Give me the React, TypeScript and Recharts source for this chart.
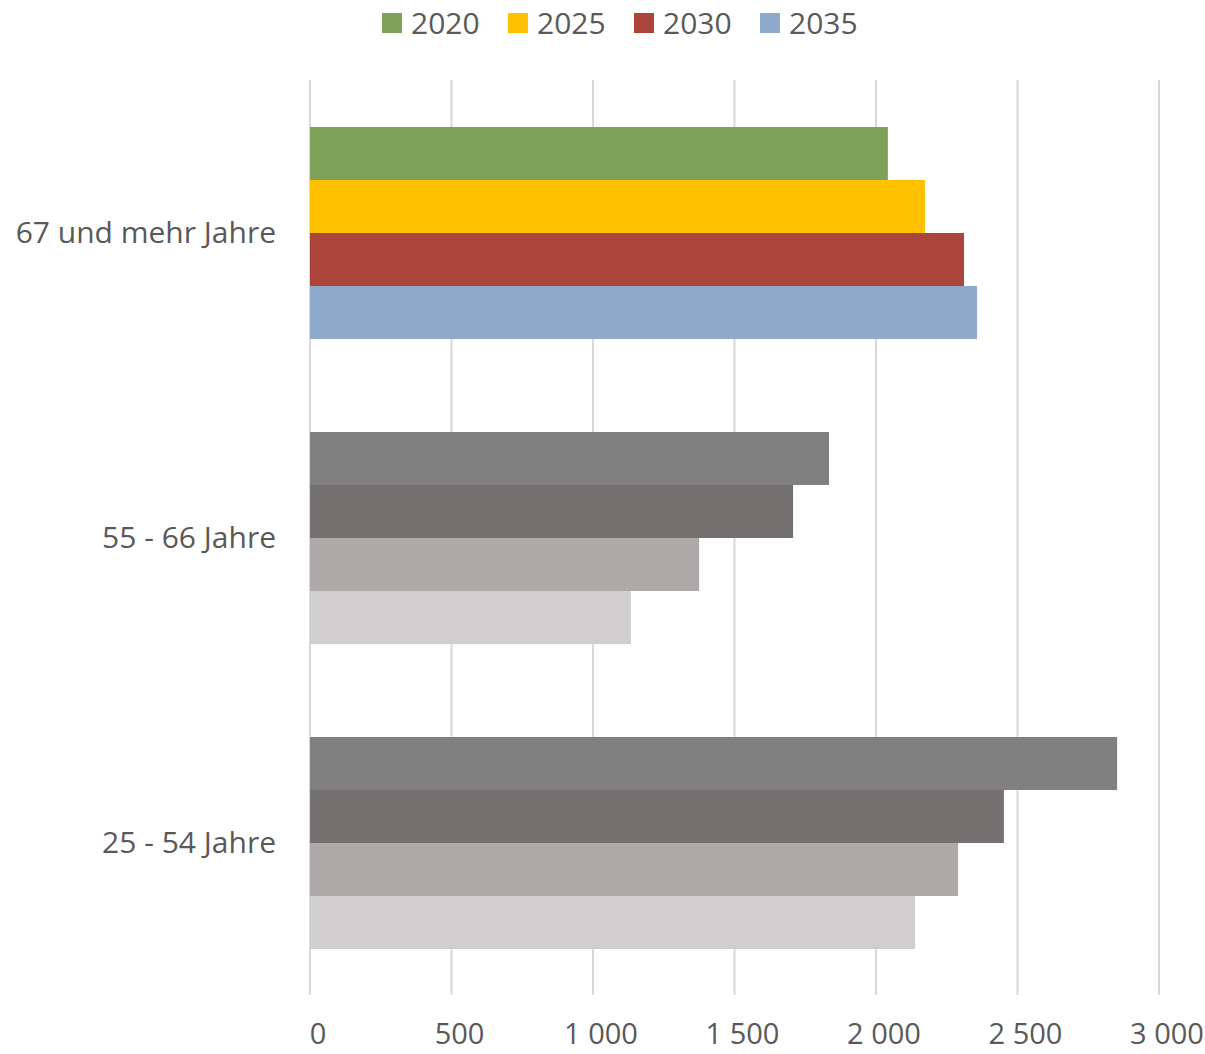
import { BarChart, Bar, XAxis, YAxis, CartesianGrid, Cell } from "recharts";

const categories = ["67 und mehr Jahre", "55 - 66 Jahre", "25 - 54 Jahre"];
const years = ["2020", "2025", "2030", "2035"];
const v2020 = [2042, 1834, 2852];
const v2025 = [2173, 1707, 2452];
const v2030 = [2311, 1375, 2290];
const v2035 = [2357, 1134, 2138];
const xTicks = [0, 500, 1000, 1500, 2000, 2500, 3000];

// first category is highlighted, the others are grey
const highlight = ["#7FA25A", "#FFC000", "#AB443B", "#8FAACB"];
const grey = ["#808080", "#767171", "#AEAAAA", "#D0CECE"];

const series = [v2020, v2025, v2030, v2035];

const data = categories.map((name, i) => {
  const row: Record<string, string | number> = { name };
  years.forEach((y, k) => {
    row[y] = series[k][i];
  });
  return row;
});

const FONT = "'Open Sans', sans-serif";
const TEXT = "#595959";

const fmt = (v: number) => String(v).replace(/\B(?=(\d{3})+(?!\d))/g, " ");

function Legend() {
  return (
    <div
      style={{
        position: "absolute",
        top: 2,
        left: 382,
        display: "flex",
        fontFamily: FONT,
        fontSize: 30,
        color: TEXT,
      }}
    >
      {years.map((y, k) => (
        <div key={y} style={{ display: "flex", alignItems: "center", width: 126 }}>
          <span
            style={{
              display: "inline-block",
              width: 20,
              height: 20,
              background: highlight[k],
              marginRight: 9,
            }}
          />
          <span>{y}</span>
        </div>
      ))}
    </div>
  );
}

export default function App() {
  return (
    <div style={{ position: "absolute", left: 0, top: 0, width: 1205, height: 1054, background: "#fff" }}>
      <Legend />
      <BarChart
        width={1205}
        height={1054}
        data={data}
        layout="vertical"
        margin={{ top: 80, right: 46, bottom: 0, left: 0 }}
        barCategoryGap={47}
        barGap={0}
      >
        <CartesianGrid horizontal={false} stroke="#D9D9D9" strokeWidth={2} />
        <XAxis
          type="number"
          domain={[0, 3000]}
          ticks={xTicks}
          tickFormatter={fmt}
          axisLine={false}
          tickLine={false}
          height={59}
          tickMargin={22}
          tick={{ fill: TEXT, fontSize: 29, fontFamily: FONT, dx: 8 }}
        />
        <YAxis
          type="category"
          dataKey="name"
          width={310}
          axisLine={false}
          tickLine={false}
          tickMargin={28}
          tick={{ fill: TEXT, fontSize: 30, fontFamily: FONT }}
        />
        {years.map((y, k) => (
          <Bar key={y} dataKey={y} fill={highlight[k]} isAnimationActive={false}>
            {data.map((d, i) => (
              <Cell key={i} fill={i === 0 ? highlight[k] : grey[k]} />
            ))}
          </Bar>
        ))}
      </BarChart>
    </div>
  );
}
